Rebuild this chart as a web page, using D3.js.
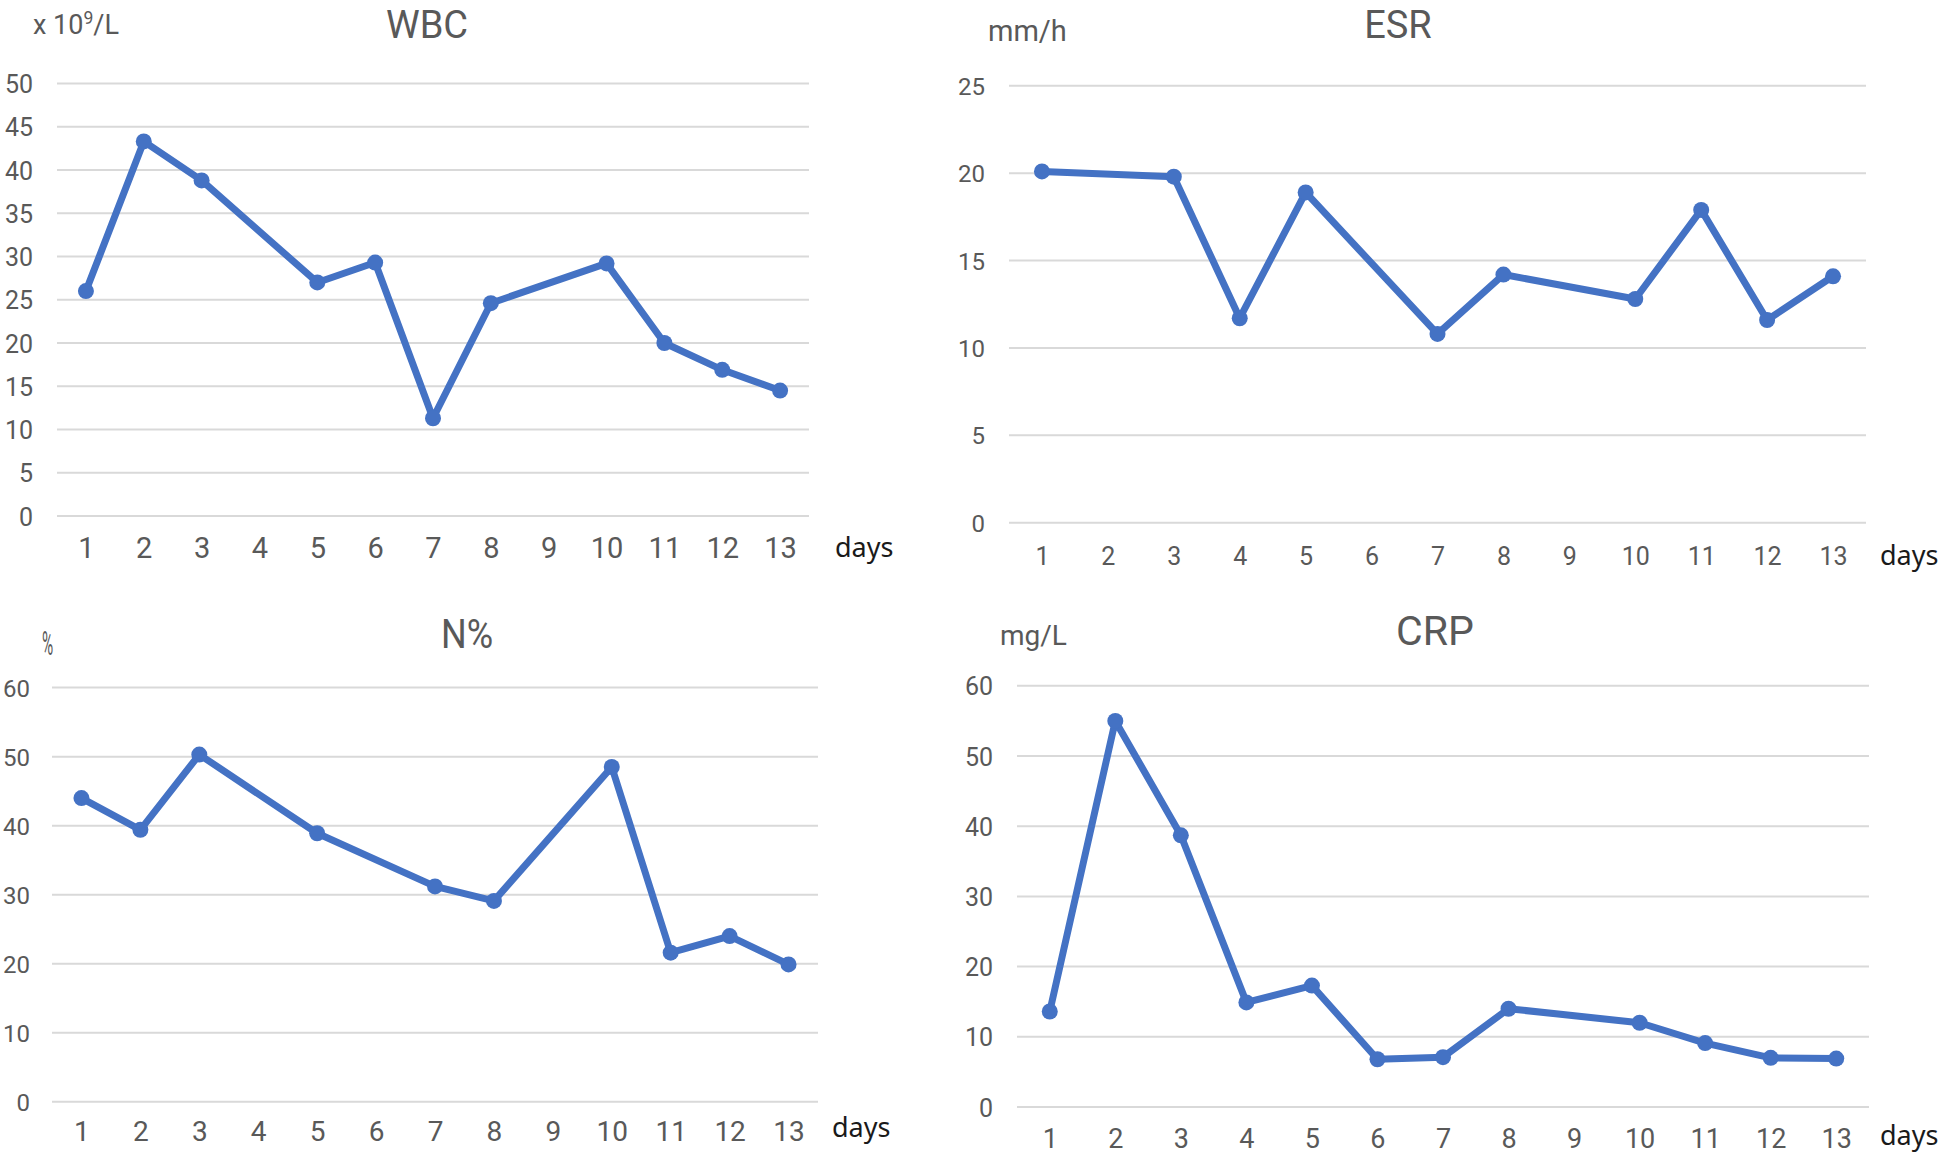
<!DOCTYPE html>
<html>
<head>
<meta charset="utf-8">
<script src="https://cdn.jsdelivr.net/npm/d3@7"></script>
<style>
  html, body { margin: 0; padding: 0; background: #fff; }
  svg { display: block; }
</style>
</head>
<body>
<svg id="chart" width="1946" height="1156"></svg>
<script>
// ---- data ----
const days = ["1","2","3","4","5","6","7","8","9","10","11","12","13"];
const wbcValues = [26.0, 43.3, 38.8, null, 27.0, 29.3, 11.3, 24.6, null, 29.2, 20.0, 16.9, 14.5];
const esrValues = [20.1, null, 19.8, 11.7, 18.9, null, 10.8, 14.2, null, 12.8, 17.9, 11.6, 14.1];
const nValues   = [44.0, 39.4, 50.3, null, 38.9, null, 31.2, 29.1, null, 48.5, 21.6, 24.0, 19.9];
const crpValues = [13.6, 55.0, 38.7, 14.9, 17.3, 6.8, 7.1, 14.0, null, 12.0, 9.1, 7.0, 6.9];
const wbcTicks = [0, 5, 10, 15, 20, 25, 30, 35, 40, 45, 50];
const esrTicks = [0, 5, 10, 15, 20, 25];
const nTicks   = [0, 10, 20, 30, 40, 50, 60];
const crpTicks = [0, 10, 20, 30, 40, 50, 60];
const titles = ["WBC", "ESR", "N%", "CRP"];
const xAxisLabel = "days";

// ---- layout (styles/positions only) ----
const panels = [
  { title: titles[0], values: wbcValues, ticks: wbcTicks,
    gx: [57, 809], gy: [516, 83.5],
    titleX: 427, titleY: 38, titleSize: 38,
    unit: "wbc", unitX: 33, unitY: 34, unitSize: 27,
    ytSize: 25, ytOff: 24, xtSize: 29, xtOff: 42,
    daysX: 835, daysY: 557 },
  { title: titles[1], values: esrValues, ticks: esrTicks,
    gx: [1009, 1866], gy: [522.7, 85.8],
    titleX: 1398, titleY: 38, titleSize: 38,
    unit: "mm/h", unitX: 988, unitY: 41, unitSize: 29,
    ytSize: 24, ytOff: 24, xtSize: 25, xtOff: 42,
    daysX: 1880, daysY: 565 },
  { title: titles[2], values: nValues, ticks: nTicks,
    gx: [52, 818], gy: [1101.8, 687.6],
    titleX: 467, titleY: 648, titleSize: 41, titleScale: 0.88,
    unit: "%", unitX: 42, unitY: 655, unitSize: 34, unitScale: 0.45,
    ytSize: 24, ytOff: 22, xtSize: 28, xtOff: 39,
    daysX: 832, daysY: 1137 },
  { title: titles[3], values: crpValues, ticks: crpTicks,
    gx: [1017, 1869], gy: [1107, 685.8],
    titleX: 1435, titleY: 645, titleSize: 41,
    unit: "mg/L", unitX: 1000, unitY: 645, unitSize: 28,
    ytSize: 25, ytOff: 24, xtSize: 27, xtOff: 41,
    daysX: 1880, daysY: 1145 }
];

const svg = d3.select("#chart");
const FONT = "Roboto, 'Liberation Sans', Arial, sans-serif";
const GRAY = "#595959";
const BLUE = "#4472C4";

panels.forEach(p => {
  const g = svg.append("g");
  const x = d3.scalePoint().domain(days).range(p.gx).padding(0.5);
  const y = d3.scaleLinear().domain([0, d3.max(p.ticks)]).range(p.gy);

  // gridlines
  g.append("g").selectAll("line").data(p.ticks).join("line")
    .attr("x1", p.gx[0]).attr("x2", p.gx[1])
    .attr("y1", d => y(d)).attr("y2", d => y(d))
    .attr("stroke", "#d9d9d9").attr("stroke-width", 2);

  // y axis labels via d3.axisLeft
  const yAxis = d3.axisLeft(y).tickValues(p.ticks).tickSize(0).tickPadding(p.ytOff);
  const ya = g.append("g").attr("transform", `translate(${p.gx[0]},0)`).call(yAxis);
  ya.select(".domain").remove();
  ya.selectAll("text").attr("fill", GRAY).style("font-family", FONT)
    .style("font-size", p.ytSize + "px").attr("dy", "0.36em");

  // x axis labels via d3.axisBottom
  const xAxis = d3.axisBottom(x).tickSize(0).tickPadding(0);
  const xa = g.append("g").attr("transform", `translate(0,${p.gy[0]})`).call(xAxis);
  xa.select(".domain").remove();
  xa.selectAll("text").attr("fill", GRAY).style("font-family", FONT)
    .style("font-size", p.xtSize + "px").attr("y", p.xtOff).attr("dy", 0);

  // line + markers
  const pts = days.map((d, i) => ({ d, v: p.values[i] })).filter(o => o.v != null);
  const line = d3.line().x(o => x(o.d)).y(o => y(o.v));
  g.append("path").datum(pts).attr("d", line)
    .attr("fill", "none").attr("stroke", BLUE).attr("stroke-width", 7)
    .attr("stroke-linejoin", "round").attr("stroke-linecap", "round");
  g.append("g").selectAll("circle").data(pts).join("circle")
    .attr("cx", o => x(o.d)).attr("cy", o => y(o.v)).attr("r", 8)
    .attr("fill", BLUE);

  // title
  const t = g.append("text").text(p.title)
    .attr("text-anchor", "middle").attr("fill", GRAY)
    .style("font-family", FONT).style("font-size", p.titleSize + "px");
  if (p.titleScale) {
    t.attr("transform", `translate(${p.titleX},${p.titleY}) scale(${p.titleScale},1)`);
  } else {
    t.attr("x", p.titleX).attr("y", p.titleY);
  }

  // unit label
  const u = g.append("text").attr("fill", GRAY)
    .style("font-family", FONT).style("font-size", p.unitSize + "px");
  if (p.unit === "wbc") {
    u.attr("x", p.unitX).attr("y", p.unitY);
    u.append("tspan").text("x 10");
    u.append("tspan").text("9").attr("dy", -10).style("font-size", (p.unitSize * 0.65) + "px");
    u.append("tspan").text("/L").attr("dy", 10);
  } else if (p.unitScale) {
    u.text(p.unit).attr("transform", `translate(${p.unitX},${p.unitY}) scale(${p.unitScale},1)`);
  } else {
    u.text(p.unit).attr("x", p.unitX).attr("y", p.unitY);
  }

  // "days" label
  g.append("text").text(xAxisLabel)
    .attr("x", p.daysX).attr("y", p.daysY).attr("fill", "#1a1a1a")
    .style("font-family", "'Noto Sans', 'Open Sans', sans-serif").style("font-size", "27px");
});
</script>
</body>
</html>
